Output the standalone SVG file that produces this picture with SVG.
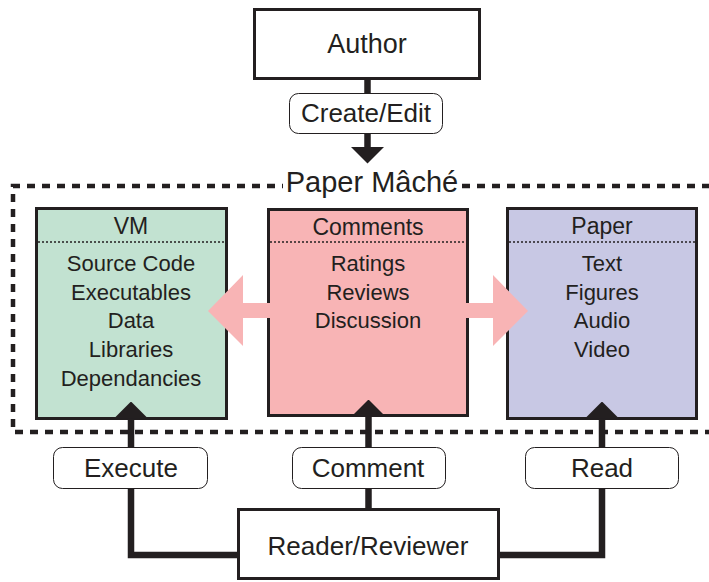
<svg xmlns="http://www.w3.org/2000/svg" width="709" height="582" viewBox="0 0 709 582">
<style>
text{font-family:"Liberation Sans",Arial,sans-serif;fill:#231f20;text-anchor:middle}
.box{stroke:#231f20;stroke-width:3}
.lbl{fill:#fff;stroke:#231f20;stroke-width:1}
.sep{stroke:#231f20;stroke-width:1.5;stroke-dasharray:2 2}
.conn{fill:none;stroke:#231f20;stroke-width:6.5}
.pink{fill:#f8b4b5}
.big{font-size:26px}
.hd{font-size:23px}
.it{font-size:22px}
</style>
<defs>
<marker id="ah" markerUnits="userSpaceOnUse" viewBox="0 0 17 34" markerWidth="17" markerHeight="34" refX="0.5" refY="17" orient="auto">
<path d="M0,0 L17,17 L0,34 z" fill="#231f20"/>
</marker>
</defs>
<rect width="709" height="582" fill="#fff"/>

<g id="frame">
<path d="M725 186 H13 V432 H725" fill="none" stroke="#231f20" stroke-width="4.5" stroke-dasharray="8 7"/>
<rect x="283" y="170" width="177" height="30" fill="#fff"/>
<text x="372" y="192" style="font-size:29px">Paper Mâché</text>
</g>

<g id="author">
<rect class="box" x="254.5" y="9.5" width="225" height="69" fill="#fff"/>
<text class="big" x="367" y="53" style="font-size:27px">Author</text>
</g>

<g id="vm">
<rect class="box" x="36.5" y="208.5" width="190" height="210" fill="#c2e2d1"/>
<line class="sep" x1="38" y1="242" x2="225" y2="242"/>
<text class="hd" x="131" y="234">VM</text>
<text class="it" x="131" y="271">Source Code</text>
<text class="it" x="131" y="300">Executables</text>
<text class="it" x="131" y="328">Data</text>
<text class="it" x="131" y="357">Libraries</text>
<text class="it" x="131" y="386">Dependancies</text>
</g>

<g id="comments">
<rect class="box" x="268.5" y="209.5" width="199" height="206" fill="#f8b4b5"/>
<line class="sep" x1="270" y1="242" x2="466" y2="242"/>
<text class="hd" x="368" y="235">Comments</text>
<text class="it" x="368" y="271">Ratings</text>
<text class="it" x="368" y="300">Reviews</text>
<text class="it" x="368" y="328">Discussion</text>
</g>

<g id="paper">
<rect class="box" x="507.5" y="208.5" width="189" height="210" fill="#c8c8e4"/>
<line class="sep" x1="509" y1="242" x2="695" y2="242"/>
<text class="hd" x="602" y="234">Paper</text>
<text class="it" x="602" y="271">Text</text>
<text class="it" x="602" y="300">Figures</text>
<text class="it" x="602" y="328">Audio</text>
<text class="it" x="602" y="357">Video</text>
</g>

<g id="reader">
<rect class="box" x="238.5" y="509.5" width="260" height="69" fill="#fff"/>
<text class="big" x="368" y="555">Reader/Reviewer</text>
</g>

<g id="connectors">
<path class="conn" d="M367.5 80 V147" marker-end="url(#ah)"/>
<path class="conn" d="M238 555 H131 V418" marker-end="url(#ah)"/>
<path class="conn" d="M368.5 509 V416" marker-end="url(#ah)"/>
<path class="conn" d="M499 555 H602 V418" marker-end="url(#ah)"/>
<polygon class="pink" points="208,311 243,275 243,303 270,303 270,318 243,318 243,346"/>
<polygon class="pink" points="465,303 493,303 493,275 528,311 493,346 493,318 465,318"/>
</g>

<g id="lbl-create">
<rect class="lbl" x="289.5" y="93.5" width="153" height="40" rx="9"/>
<text class="big" x="366" y="122">Create/Edit</text>
</g>
<g id="lbl-execute">
<rect class="lbl" x="53.5" y="447.5" width="154" height="41" rx="9"/>
<text class="big" x="131" y="477">Execute</text>
</g>
<g id="lbl-comment">
<rect class="lbl" x="292.5" y="447.5" width="153" height="41" rx="9"/>
<text class="big" x="368" y="477">Comment</text>
</g>
<g id="lbl-read">
<rect class="lbl" x="525.5" y="447.5" width="153" height="41" rx="9"/>
<text class="big" x="602" y="477">Read</text>
</g>
</svg>
